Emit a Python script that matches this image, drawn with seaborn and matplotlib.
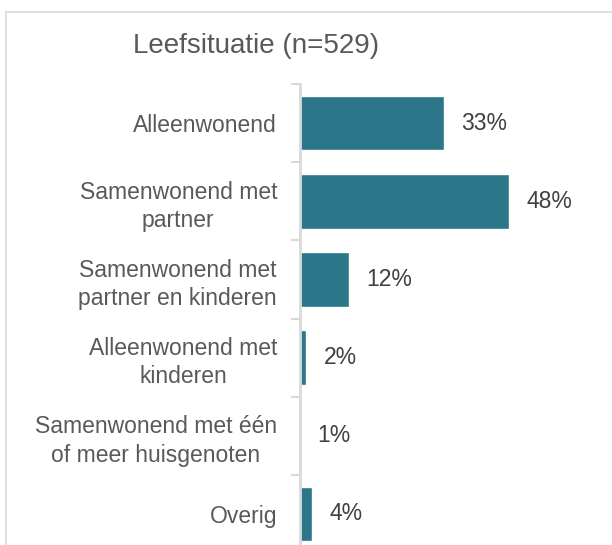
import matplotlib
matplotlib.use("Agg")
import matplotlib.pyplot as plt
import matplotlib.patches as mpatches
from matplotlib.ticker import FixedLocator
import seaborn as sns
import pandas as pd

categories = [
    "Alleenwonend",
    "Samenwonend met\npartner",
    "Samenwonend met\npartner en kinderen",
    "Alleenwonend met\nkinderen",
    "Samenwonend met één\nof meer huisgenoten",
    "Overig",
]
bar_values = [33.1, 48.0, 11.2, 1.4, 0.0, 2.8]
value_labels = ["33%", "48%", "12%", "2%", "1%", "4%"]
title = "Leefsituatie (n=529)"

BAR_COLOR = "#2C7689"
GRID_COLOR = "#D9D9D9"
LABEL_COLOR = "#595959"
VALUE_COLOR = "#404040"
FONT = ["Liberation Sans", "DejaVu Sans"]

sns.set_theme(style="white")
plt.rcParams["font.family"] = FONT

W, H = 612, 545
fig = plt.figure(figsize=(W / 100, H / 100), dpi=100)
fig.patch.set_facecolor("white")

ax_left, ax_right = 300, 600
ax_top, ax_bottom = 84, 553
ax = fig.add_axes([ax_left / W, (H - ax_bottom) / H,
                   (ax_right - ax_left) / W, (ax_bottom - ax_top) / H])

df = pd.DataFrame({"cat": categories, "val": bar_values})
sns.barplot(data=df, x="val", y="cat", orient="h", color=BAR_COLOR,
            saturation=1, width=0.70, ax=ax, order=categories)

px_per_pct = 4.35
ax.set_xlim(0, (ax_right - ax_left) / px_per_pct)
ax.set_ylim(len(categories) - 0.5, -0.5)

for i, (v, lab) in enumerate(zip(bar_values, value_labels)):
    ax.annotate(lab, xy=(v, i), xytext=(12.5, 0), textcoords="offset points",
                ha="left", va="center", fontsize=16.5, color=VALUE_COLOR,
                family=FONT)

ax.set_xlabel("")
ax.set_ylabel("")
ax.set_xticks([])
for s in ["top", "right", "bottom"]:
    ax.spines[s].set_visible(False)
ax.spines["left"].set_color(GRID_COLOR)
ax.spines["left"].set_linewidth(2)

ax.set_yticks(range(len(categories)))
ax.set_yticklabels(categories, multialignment="center", linespacing=1.3,
                   fontsize=16.5, color=LABEL_COLOR, family=FONT)
ax.yaxis.set_minor_locator(FixedLocator([i - 0.5 for i in range(len(categories) + 1)]))
ax.tick_params(axis="y", which="major", length=0, pad=16.5)
ax.tick_params(axis="y", which="minor", length=6.5, width=1.5,
               color=GRID_COLOR, left=True)

fig.text(256 / W, 1 - 46 / H, title, ha="center", va="center",
         fontsize=20, color=LABEL_COLOR, family=FONT)

border = mpatches.Rectangle((6 / W, -0.2), 1.2, 1.2 - 12 / H,
                            transform=fig.transFigure, fill=False,
                            edgecolor=GRID_COLOR, linewidth=1.2)
fig.add_artist(border)

fig.savefig("out.png", dpi=100, facecolor="white")
